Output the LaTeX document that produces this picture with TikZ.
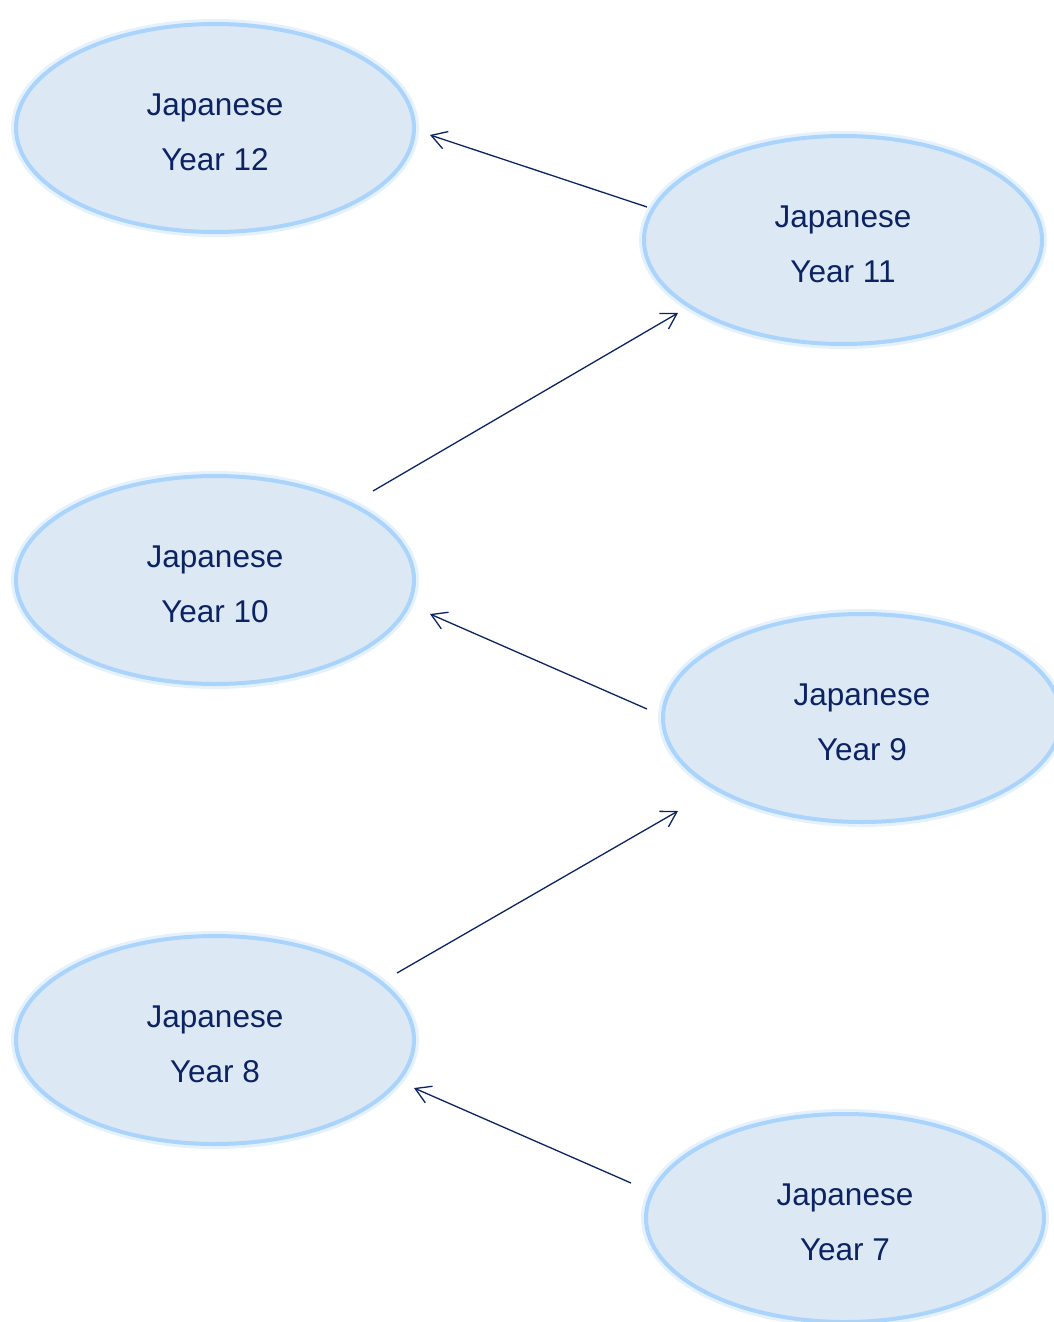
\documentclass[tikz,border=0pt]{standalone}
\usepackage{fontspec}
\setmainfont{Liberation Sans}
\usetikzlibrary{shapes.geometric,arrows.meta}
\definecolor{navy}{HTML}{0B2362}
\definecolor{glow}{HTML}{AAD4FB}
\definecolor{fillb}{HTML}{DDE8F5}
\tikzset{
  yearnode/.style={ellipse, minimum width=398pt, minimum height=208pt, inner sep=0pt,
    fill=fillb, draw=glow, line width=4pt, text=navy, align=center,
    font=\fontsize{31.5}{55}\selectfont,
    preaction={draw=glow, line width=10pt, draw opacity=0.3}},
  arr/.style={draw=navy, line width=1.3pt, -{Straight Barb[length=15pt,width=18pt,line width=1.3pt]}}
}
\newcommand{\lift}{\rule{0pt}{31pt}}
\begin{document}
\begin{tikzpicture}[x=1pt,y=-1pt]
\useasboundingbox (0,0) rectangle (1053,1322);
\node[yearnode] (y12) at (215,128) {\lift Japanese\\Year 12};
\node[yearnode] (y11) at (843,240) {\lift Japanese\\Year 11};
\node[yearnode] (y10) at (215,580) {\lift Japanese\\Year 10};
\node[yearnode] (y9) at (862,718) {\lift Japanese\\Year 9};
\node[yearnode] (y8) at (215,1040) {\lift Japanese\\Year 8};
\node[yearnode] (y7) at (845,1218) {\lift Japanese\\Year 7};
\draw[arr] ([shift={(-196,-33)}]y11.center) -- ([shift={(215,7)}]y12.center);
\draw[arr] ([shift={(158,-89)}]y10.center) -- ([shift={(-165,73)}]y11.center);
\draw[arr] ([shift={(-215,-9)}]y9.center) -- ([shift={(215,34)}]y10.center);
\draw[arr] ([shift={(182,-67)}]y8.center) -- ([shift={(-184,93)}]y9.center);
\draw[arr] ([shift={(-214,-35)}]y7.center) -- ([shift={(199,48)}]y8.center);
\end{tikzpicture}
\end{document}
